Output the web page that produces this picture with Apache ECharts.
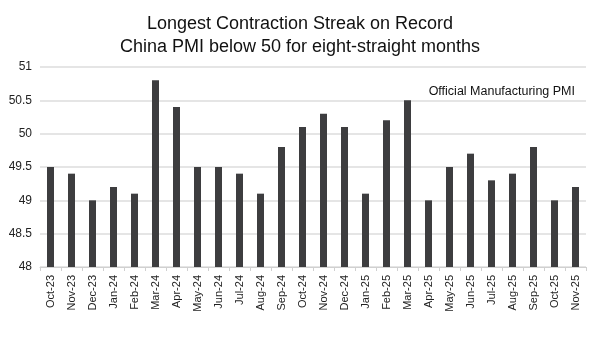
<!DOCTYPE html>
<html>
<head>
<meta charset="utf-8">
<script src="https://cdn.jsdelivr.net/npm/echarts@6/dist/echarts.min.js"></script>
<style>
  html, body { margin: 0; padding: 0; background: #fff; }
  #chart { width: 600px; height: 348px; }
</style>
</head>
<body>
<div id="chart"></div>
<script>
// Monthly categories, Oct 2023 to Nov 2025
const months = [
  'Oct-23', 'Nov-23', 'Dec-23', 'Jan-24', 'Feb-24', 'Mar-24', 'Apr-24',
  'May-24', 'Jun-24', 'Jul-24', 'Aug-24', 'Sep-24', 'Oct-24', 'Nov-24',
  'Dec-24', 'Jan-25', 'Feb-25', 'Mar-25', 'Apr-25', 'May-25', 'Jun-25',
  'Jul-25', 'Aug-25', 'Sep-25', 'Oct-25', 'Nov-25'
];

// Official manufacturing PMI readings
const pmi = [
  49.5, 49.4, 49.0, 49.2, 49.1, 50.8, 50.4,
  49.5, 49.5, 49.4, 49.1, 49.8, 50.1, 50.3,
  50.1, 49.1, 50.2, 50.5, 49.0, 49.5, 49.7,
  49.3, 49.4, 49.8, 49.0, 49.2
];

const seriesName = 'Official Manufacturing PMI';
const titleLines = [
  'Longest Contraction Streak on Record',
  'China PMI below 50 for eight-straight months'
];

const font = '"Liberation Sans", Arial, sans-serif';
const chart = echarts.init(document.getElementById('chart'), null, { renderer: 'canvas' });

chart.setOption({
  animation: false,
  backgroundColor: '#ffffff',
  textStyle: { fontFamily: font },
  title: {
    text: titleLines.join('\n'),
    left: 'center',
    top: 8,
    textStyle: {
      fontFamily: font,
      fontSize: 18,
      fontWeight: 'normal',
      color: '#111',
      lineHeight: 23
    }
  },
  legend: {
    data: [seriesName],
    right: 20,
    top: 80,
    icon: 'none',
    itemWidth: 0,
    itemGap: 0,
    textStyle: { fontFamily: font, fontSize: 12.5, color: '#111' }
  },
  grid: { left: 40, right: 14, top: 67, bottom: 81 },
  xAxis: {
    type: 'category',
    data: months,
    axisLine: { show: true, lineStyle: { color: '#d0d0d0', width: 1 } },
    axisTick: { show: true, length: 4, alignWithLabel: false, lineStyle: { color: '#d0d0d0' } },
    axisLabel: {
      rotate: 90,
      interval: 0,
      margin: 8,
      fontFamily: font,
      fontSize: 11,
      color: '#222'
    }
  },
  yAxis: {
    type: 'value',
    min: 48,
    max: 51,
    interval: 0.5,
    axisLine: { show: false },
    axisTick: { show: false },
    axisLabel: {
      margin: 8,
      fontFamily: font,
      fontSize: 12,
      color: '#222'
    },
    splitLine: { lineStyle: { color: '#dcdcdc', width: 1.5 } }
  },
  series: [{
    name: seriesName,
    type: 'bar',
    data: pmi,
    barWidth: 7,
    itemStyle: { color: '#3d3d3f' }
  }]
});
</script>
</body>
</html>
